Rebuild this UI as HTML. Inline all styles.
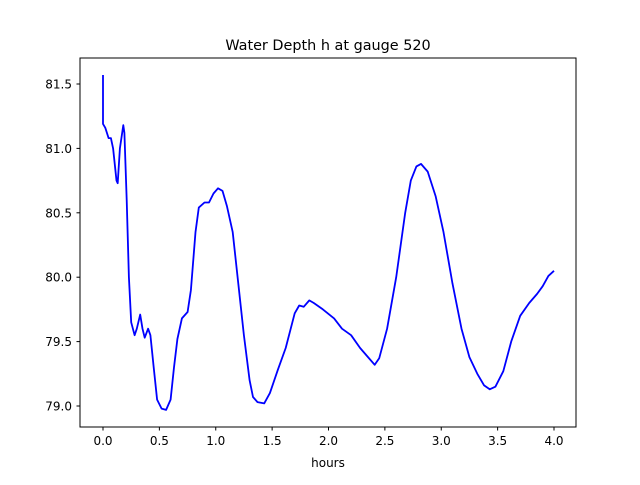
<!DOCTYPE html>
<html><head><meta charset="utf-8"><style>
body{margin:0;background:#fff}
svg text{font-family:"DejaVu Sans","Liberation Sans",sans-serif;fill:#000}
</style></head><body>
<svg id="chart" width="640" height="480" xmlns="http://www.w3.org/2000/svg">
<rect width="640" height="480" fill="#fff"/>
<text x="328" y="50" font-size="14.4" text-anchor="middle">Water Depth h at gauge 520</text>
<g id="xt"></g>
<g id="yt"></g>
<path id="line" fill="none" stroke="#0000ff" stroke-width="1.8" stroke-linejoin="round"/>
<rect x="80" y="58" width="496" height="369" fill="none" stroke="#000" stroke-width="1"/>
<text x="328" y="467" font-size="12" text-anchor="middle">hours</text>
</svg>
<script>
const hours=[0,0,0.02,0.05,0.07,0.09,0.12,0.13,0.15,0.18,0.19,0.21,0.23,0.25,0.28,0.30,0.33,0.35,0.37,0.40,0.42,0.45,0.48,0.52,0.56,0.60,0.63,0.66,0.70,0.75,0.78,0.82,0.85,0.90,0.94,0.98,1.02,1.06,1.10,1.15,1.20,1.25,1.30,1.33,1.37,1.43,1.48,1.55,1.62,1.70,1.74,1.78,1.83,1.87,1.95,2.05,2.12,2.20,2.28,2.35,2.41,2.45,2.52,2.60,2.68,2.73,2.78,2.82,2.88,2.95,3.02,3.10,3.18,3.25,3.32,3.38,3.43,3.48,3.55,3.62,3.70,3.78,3.85,3.90,3.95,4.0];
const depth=[81.57,81.19,81.16,81.08,81.08,81.0,80.75,80.73,81.0,81.18,81.12,80.6,80.0,79.65,79.55,79.6,79.71,79.6,79.53,79.6,79.55,79.3,79.05,78.98,78.97,79.05,79.3,79.52,79.68,79.73,79.9,80.35,80.54,80.58,80.58,80.65,80.69,80.67,80.55,80.35,79.95,79.55,79.2,79.07,79.03,79.02,79.1,79.28,79.45,79.72,79.78,79.77,79.82,79.8,79.75,79.68,79.6,79.55,79.45,79.38,79.32,79.37,79.6,80.0,80.5,80.75,80.86,80.88,80.82,80.63,80.35,79.95,79.6,79.38,79.25,79.16,79.13,79.15,79.27,79.5,79.7,79.8,79.87,79.93,80.01,80.05];
const xTicks=[0,0.5,1,1.5,2,2.5,3,3.5,4];
const xTickLabels=["0.0","0.5","1.0","1.5","2.0","2.5","3.0","3.5","4.0"];
const yTicks=[79,79.5,80,80.5,81,81.5];
const yTickLabels=["79.0","79.5","80.0","80.5","81.0","81.5"];
const X=t=>103+t*112.75, Y=h=>84+(81.5-h)*128.8;
const NS="http://www.w3.org/2000/svg";
const xt=document.getElementById('xt'), yt=document.getElementById('yt');
xTicks.forEach((t,i)=>{
  const l=document.createElementNS(NS,'line');
  
  
  l.setAttribute('x1',X(t));l.setAttribute('x2',X(t));l.setAttribute('y1',427);l.setAttribute('y2',430.5);l.setAttribute('stroke','#000');
  xt.appendChild(l);
  const tx=document.createElementNS(NS,'text');
  
  
  tx.setAttribute('x',X(t));tx.setAttribute('y',445);tx.setAttribute('font-size','12');tx.setAttribute('text-anchor','middle');
  tx.textContent=xTickLabels[i];xt.appendChild(tx);
});
yTicks.forEach((h,i)=>{
  const l=document.createElementNS(NS,'line');
  
  
  l.setAttribute('x1',76.5);l.setAttribute('x2',80);l.setAttribute('y1',Y(h));l.setAttribute('y2',Y(h));l.setAttribute('stroke','#000');
  yt.appendChild(l);
  const tx=document.createElementNS(NS,'text');
  
  
  tx.setAttribute('x',72);tx.setAttribute('y',Y(h)+4.5);tx.setAttribute('font-size','12');tx.setAttribute('text-anchor','end');
  tx.textContent=yTickLabels[i];yt.appendChild(tx);
});
document.getElementById('line').setAttribute('d',hours.map((t,i)=>(i?'L':'M')+X(t).toFixed(1)+','+Y(depth[i]).toFixed(1)).join(''));
</script>
</body></html>
